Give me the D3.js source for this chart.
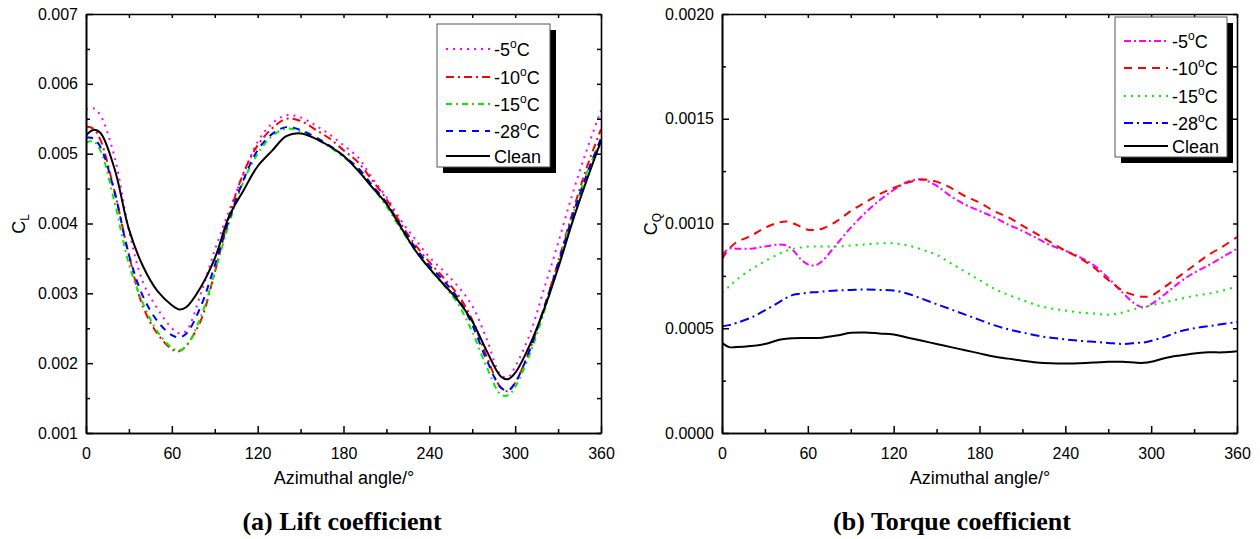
<!DOCTYPE html>
<html>
<head>
<meta charset="utf-8">
<script src="https://cdn.jsdelivr.net/npm/d3@7"></script>
<style>
body { margin: 0; background: #fff; }
svg { display: block; }
</style>
</head>
<body>
<script>
// données - panneau (a) coefficient de portance
const anglesL = [0,5,10,20,30,40,50,60,65,70,80,90,100,110,120,130,140,150,160,170,180,190,200,210,220,230,240,250,260,270,280,290,295,300,310,320,330,340,350,360];
const liftM5 = [5.63,5.65,5.55,4.95,3.90,3.15,2.78,2.50,2.43,2.46,2.98,3.62,4.18,4.70,5.17,5.43,5.55,5.52,5.41,5.28,5.12,4.95,4.65,4.38,4.05,3.78,3.52,3.32,3.10,2.82,2.35,1.83,1.80,1.95,2.40,3.05,3.72,4.42,5.05,5.62];
const liftM10 = [5.39,5.36,5.20,4.45,3.55,2.80,2.42,2.20,2.17,2.25,2.60,3.30,4.10,4.72,5.12,5.36,5.50,5.47,5.35,5.22,5.05,4.88,4.62,4.35,4.00,3.70,3.45,3.22,2.98,2.62,2.10,1.65,1.60,1.72,2.18,2.78,3.45,4.15,4.80,5.35];
const liftM15 = [5.16,5.18,5.05,4.30,3.42,2.85,2.45,2.22,2.18,2.24,2.65,3.30,4.00,4.60,5.00,5.25,5.36,5.32,5.22,5.10,4.95,4.78,4.52,4.25,3.92,3.62,3.35,3.12,2.85,2.45,1.95,1.55,1.54,1.66,2.12,2.72,3.40,4.10,4.72,5.20];
const liftM28 = [5.23,5.22,5.10,4.45,3.55,2.95,2.60,2.40,2.37,2.42,2.80,3.40,4.05,4.62,5.05,5.28,5.38,5.34,5.24,5.12,4.97,4.80,4.55,4.30,3.97,3.66,3.40,3.18,2.93,2.55,2.05,1.65,1.61,1.72,2.18,2.78,3.42,4.10,4.70,5.22];
const liftClean = [5.26,5.34,5.30,4.78,3.92,3.38,3.03,2.83,2.77,2.80,3.08,3.50,4.10,4.47,4.82,5.04,5.25,5.29,5.22,5.11,4.97,4.76,4.52,4.28,3.95,3.62,3.36,3.13,2.90,2.60,2.18,1.81,1.77,1.86,2.25,2.76,3.36,4.02,4.62,5.18];

// données - panneau (b) coefficient de couple
const anglesR = [0,5,10,20,30,40,45,50,55,60,65,70,80,90,100,110,120,130,140,150,160,170,180,190,200,210,220,230,240,250,260,270,280,290,295,300,310,320,330,340,350,360];
const torqueM5 = [0.85,0.88,0.88,0.88,0.89,0.90,0.895,0.87,0.83,0.805,0.80,0.82,0.90,0.98,1.05,1.11,1.16,1.20,1.21,1.18,1.13,1.09,1.06,1.03,0.995,0.965,0.93,0.895,0.87,0.84,0.80,0.74,0.67,0.61,0.60,0.615,0.665,0.72,0.765,0.80,0.84,0.88];
const torqueM10 = [0.83,0.88,0.91,0.94,0.98,1.005,1.01,1.00,0.985,0.97,0.97,0.975,1.01,1.06,1.10,1.14,1.17,1.195,1.21,1.20,1.17,1.13,1.10,1.06,1.03,0.99,0.95,0.91,0.87,0.835,0.79,0.73,0.68,0.655,0.65,0.655,0.70,0.75,0.80,0.85,0.89,0.935];
const torqueM15 = [0.67,0.70,0.73,0.78,0.82,0.855,0.87,0.88,0.885,0.89,0.89,0.89,0.89,0.895,0.90,0.905,0.905,0.895,0.875,0.85,0.81,0.77,0.73,0.69,0.66,0.635,0.61,0.595,0.585,0.575,0.57,0.565,0.575,0.595,0.60,0.61,0.625,0.64,0.655,0.665,0.68,0.70];
const torqueM28 = [0.51,0.515,0.525,0.55,0.585,0.625,0.645,0.66,0.665,0.67,0.672,0.675,0.68,0.683,0.685,0.683,0.68,0.665,0.64,0.615,0.59,0.565,0.54,0.515,0.495,0.48,0.465,0.455,0.447,0.44,0.435,0.43,0.425,0.43,0.432,0.44,0.46,0.485,0.50,0.51,0.52,0.53];
const torqueClean = [0.43,0.41,0.41,0.415,0.425,0.445,0.45,0.452,0.453,0.453,0.453,0.455,0.465,0.478,0.48,0.475,0.47,0.455,0.44,0.425,0.41,0.395,0.38,0.365,0.355,0.345,0.337,0.333,0.332,0.333,0.336,0.34,0.34,0.335,0.335,0.34,0.358,0.37,0.38,0.385,0.385,0.39];

// graduations
const xMajor = [0,60,120,180,240,300,360];
const xMinor = [30,90,150,210,270,330];
const liftTicks = [0.001,0.002,0.003,0.004,0.005,0.006,0.007];
const liftMinor = [0.0015,0.0025,0.0035,0.0045,0.0055,0.0065];
const torqueTicks = [0,0.0005,0.001,0.0015,0.002];
const torqueMinor = [0.00025,0.00075,0.00125,0.00175];
const legendNames = ["-5", "-10", "-15", "-28", "Clean"];

const sans = "'Liberation Sans', Arial, sans-serif";
const serif = "'Liberation Serif', 'Times New Roman', serif";

const svg = d3.select("body").append("svg").attr("width", 1260).attr("height", 539);

function panel(id, x0, yDomain, yTicks, yMinor, yFmt, angles, values, colors, dashes, legend, sub, labelX, title, titleX) {
    const x = d3.scaleLinear().domain([0, 360]).range([x0, x0 + 515]);
    const y = d3.scaleLinear().domain(yDomain).range([433, 14]);
    const g = svg.append("g");

    svg.append("clipPath").attr("id", id).append("rect")
        .attr("x", x0).attr("y", 14).attr("width", 515).attr("height", 419);

    // courbes
    const line = d3.line().x(d => x(d[0])).y(d => y(d[1] * 0.001)).curve(d3.curveCatmullRom.alpha(0.5));
    values.forEach((vals, i) => {
        g.append("path")
            .datum(angles.map((a, j) => [a, vals[j]]))
            .attr("d", line)
            .attr("fill", "none")
            .attr("stroke", colors[i])
            .attr("stroke-width", 2)
            .attr("stroke-dasharray", dashes[i])
            .attr("clip-path", `url(#${id})`);
    });

    // axes
    g.append("g").attr("transform", "translate(0,433)")
        .call(d3.axisBottom(x).tickValues(xMajor).tickSize(-7).tickSizeOuter(0).tickPadding(15).tickFormat(d3.format("d")));
    g.append("g").attr("transform", "translate(0,433)")
        .call(d3.axisBottom(x).tickValues(xMinor).tickSize(-4).tickSizeOuter(0).tickFormat(""));
    g.append("g").attr("transform", "translate(0,14)")
        .call(d3.axisTop(x).tickValues(xMajor.concat(xMinor)).tickSize(-4).tickSizeOuter(0).tickFormat(""));
    g.append("g").attr("transform", `translate(${x0},0)`)
        .call(d3.axisLeft(y).tickValues(yTicks).tickSize(-7).tickSizeOuter(0).tickPadding(8).tickFormat(yFmt));
    g.append("g").attr("transform", `translate(${x0},0)`)
        .call(d3.axisLeft(y).tickValues(yMinor).tickSize(-4).tickSizeOuter(0).tickFormat(""));
    g.append("g").attr("transform", `translate(${x0 + 515},0)`)
        .call(d3.axisRight(y).tickValues(yTicks.concat(yMinor)).tickSize(-4).tickSizeOuter(0).tickFormat(""));

    g.selectAll(".domain").attr("stroke", "#000").attr("stroke-width", 1.6);
    g.selectAll(".tick line").attr("stroke", "#000").attr("stroke-width", 1.5);
    g.selectAll(".tick text").attr("font-family", sans).attr("font-size", 16).attr("fill", "#000");

    // titres des axes
    const yl = g.append("text")
        .attr("transform", `translate(${labelX},224) rotate(-90)`)
        .attr("text-anchor", "middle")
        .attr("font-family", sans).attr("font-size", 18);
    yl.append("tspan").text("C");
    yl.append("tspan").attr("font-size", 12).attr("dy", 4).text(sub);

    g.append("text").attr("x", x0 + 258).attr("y", 484)
        .attr("text-anchor", "middle").attr("font-family", sans).attr("font-size", 18)
        .text("Azimuthal angle/\u00b0");

    g.append("text").attr("x", titleX).attr("y", 530)
        .attr("text-anchor", "middle").attr("font-family", serif).attr("font-size", 26).attr("font-weight", "bold")
        .text(title);

    // légende
    const lg = g.append("g");
    lg.append("rect").attr("x", legend.x + 6).attr("y", legend.y + 6)
        .attr("width", legend.w).attr("height", legend.h).attr("fill", "#000");
    lg.append("rect").attr("x", legend.x).attr("y", legend.y)
        .attr("width", legend.w).attr("height", legend.h)
        .attr("fill", "#fff").attr("stroke", "#555").attr("stroke-width", 1);
    legendNames.forEach((name, i) => {
        const ry = legend.rows[i];
        lg.append("line")
            .attr("x1", legend.x + 9).attr("x2", legend.x + 53)
            .attr("y1", ry).attr("y2", ry)
            .attr("stroke", colors[i]).attr("stroke-width", 2).attr("stroke-dasharray", dashes[i]);
        const t = lg.append("text").attr("x", legend.x + 57).attr("y", ry + 6.5)
            .attr("font-family", sans).attr("font-size", 18);
        if (name === "Clean") {
            t.text(name);
        } else {
            t.append("tspan").text(name);
            t.append("tspan").attr("font-size", 12).attr("dy", -8).text("o");
            t.append("tspan").attr("dy", 8).text("C");
        }
    });
}

panel("clipA", 86, [0.001, 0.007], liftTicks, liftMinor, d3.format(".3f"), anglesL,
    [liftM5, liftM10, liftM15, liftM28, liftClean],
    ["#ff00ff", "#ff0000", "#00f000", "#0000ff", "#000"],
    ["2,5", "8,4,2,4", "6,4,2,4", "7,6", null],
    { x: 437, y: 24, w: 113, h: 143, rows: [49, 77, 104, 131, 156] },
    "L", 25, "(a) Lift coefficient", 342);

panel("clipB", 722, [0, 0.002], torqueTicks, torqueMinor, d3.format(".4f"), anglesR,
    [torqueM5, torqueM10, torqueM15, torqueM28, torqueClean],
    ["#ff00ff", "#ff0000", "#00f000", "#0000ff", "#000"],
    ["7,3,2,3", "8,6", "2,5", "9,4,2,4", null],
    { x: 1115, y: 17, w: 112, h: 140, rows: [41, 68, 96, 123, 146] },
    "Q", 657, "(b) Torque coefficient", 952);
</script>
</body>
</html>
